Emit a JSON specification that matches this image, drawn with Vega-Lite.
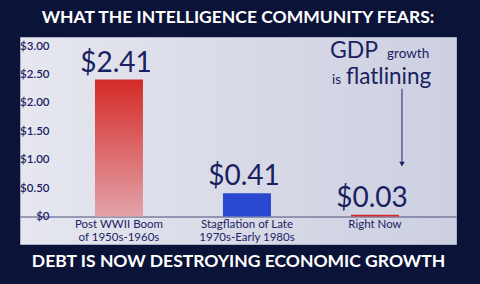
{
  "$schema": "https://vega.github.io/schema/vega-lite/v6.json",
  "width": 436,
  "height": 207,
  "autosize": {"type": "none"},
  "padding": {"left": 20, "top": 37, "right": 24, "bottom": 40},
  "background": "#0c1338",
  "config": {
    "font": "Lato",
    "view": {
      "stroke": "#aab0c8",
      "fill": {"gradient": "linear", "x1": 0, "y1": 0, "x2": 1, "y2": 0, "stops": [{"offset": 0, "color": "#e6e7ef"}, {"offset": 0.5, "color": "#d8dae7"}, {"offset": 1, "color": "#cdd0e1"}]}
    }
  },
  "title": {
    "text": "WHAT THE INTELLIGENCE COMMUNITY FEARS:",
    "color": "#ffffff",
    "fontSize": 17.5,
    "fontWeight": "bold",
    "font": "Lato",
    "anchor": "middle",
    "offset": 11
  },
  "data": {
    "values": [
      {"era": "Post WWII Boom of 1950s-1960s", "value": 2.41},
      {"era": "Stagflation of Late 1970s-Early 1980s", "value": 0.41},
      {"era": "Right Now", "value": 0.03}
    ]
  },
  "encoding": {
    "x": {
      "field": "era",
      "type": "nominal",
      "sort": null,
      "scale": {"paddingInner": 0.625, "paddingOuter": 0.5156, "align": 0.568},
      "axis": {
        "orient": "bottom",
        "offset": -27.5,
        "title": "DEBT IS NOW DESTROYING ECONOMIC GROWTH",
        "titleColor": "#ffffff",
        "titleFontSize": 17.5,
        "titleFont": "Lato",
        "titleFontWeight": "bold",
        "titlePadding": 10,
        "labelAngle": 0,
        "labelColor": "#1b2466",
        "labelFontSize": 11.5,
        "labelPadding": 2,
        "labelLineHeight": 12.5,
        "ticks": false,
        "tickSize": 0,
        "domainColor": "#4a5078",
        "labelExpr": "datum.value == 'Post WWII Boom of 1950s-1960s' ? ['Post WWII Boom', 'of 1950s-1960s'] : datum.value == 'Stagflation of Late 1970s-Early 1980s' ? ['Stagflation of Late', '1970s-Early 1980s'] : datum.value"
      }
    },
    "y": {
      "field": "value",
      "type": "quantitative",
      "scale": {"domain": [-0.484, 3.16], "nice": false, "zero": false},
      "axis": {
        "values": [0, 0.5, 1, 1.5, 2, 2.5, 3],
        "labelExpr": "datum.value == 0 ? '$0' : '$' + format(datum.value, '.2f')",
        "labelOverlap": false,
        "grid": false,
        "domain": false,
        "ticks": false,
        "tickSize": 0,
        "labelPadding": -29,
        "labelAlign": "right",
        "labelColor": "#1b2466",
        "labelFontSize": 11.5,
        "labelFontWeight": 600,
        "title": null
      }
    }
  },
  "layer": [
    {
      "mark": {"type": "bar"},
      "encoding": {
        "color": {
          "condition": [
            {"test": "datum.era == 'Post WWII Boom of 1950s-1960s'", "value": {"gradient": "linear", "x1": 0, "y1": 0, "x2": 0, "y2": 1, "stops": [{"offset": 0, "color": "#d42a26"}, {"offset": 1, "color": "#e3a3aa"}]}},
            {"test": "datum.era == 'Right Now'", "value": "#d62a2a"}
          ],
          "value": "#2b49d0"
        }
      }
    },
    {
      "mark": {"type": "text", "baseline": "alphabetic", "dy": -8, "dx": -3, "fontSize": 28, "color": "#1a2160"},
      "encoding": {
        "text": {"field": "value", "type": "quantitative", "format": "$.2f"}
      }
    },
    {
      "data": {"values": [{"era": "Right Now", "value": 2.79, "t": "GDP"}]},
      "mark": {"type": "text", "align": "left", "baseline": "alphabetic", "dx": -45, "fontSize": 23, "color": "#1a2160"},
      "encoding": {"text": {"field": "t"}}
    },
    {
      "data": {"values": [{"era": "Right Now", "value": 2.79, "t": "growth"}]},
      "mark": {"type": "text", "align": "left", "baseline": "alphabetic", "dx": 12, "fontSize": 13.5, "color": "#1a2160"},
      "encoding": {"text": {"field": "t"}}
    },
    {
      "data": {"values": [{"era": "Right Now", "value": 2.34, "t": "is"}]},
      "mark": {"type": "text", "align": "left", "baseline": "alphabetic", "dx": -43, "fontSize": 13.5, "color": "#1a2160"},
      "encoding": {"text": {"field": "t"}}
    },
    {
      "data": {"values": [{"era": "Right Now", "value": 2.34, "t": "flatlining"}]},
      "mark": {"type": "text", "align": "left", "baseline": "alphabetic", "dx": -29, "fontSize": 22.5, "color": "#1a2160"},
      "encoding": {"text": {"field": "t"}}
    },
    {
      "data": {"values": [{"era": "Right Now", "value": 2.25, "value2": 0.96}]},
      "mark": {"type": "rule", "xOffset": 27, "color": "#1a2160", "strokeWidth": 1},
      "encoding": {"y2": {"field": "value2"}}
    },
    {
      "data": {"values": [{"era": "Right Now", "value": 0.92}]},
      "mark": {"type": "point", "shape": "triangle-down", "filled": true, "size": 30, "xOffset": 27, "color": "#1a2160", "opacity": 1},
      "encoding": {}
    }
  ]
}
